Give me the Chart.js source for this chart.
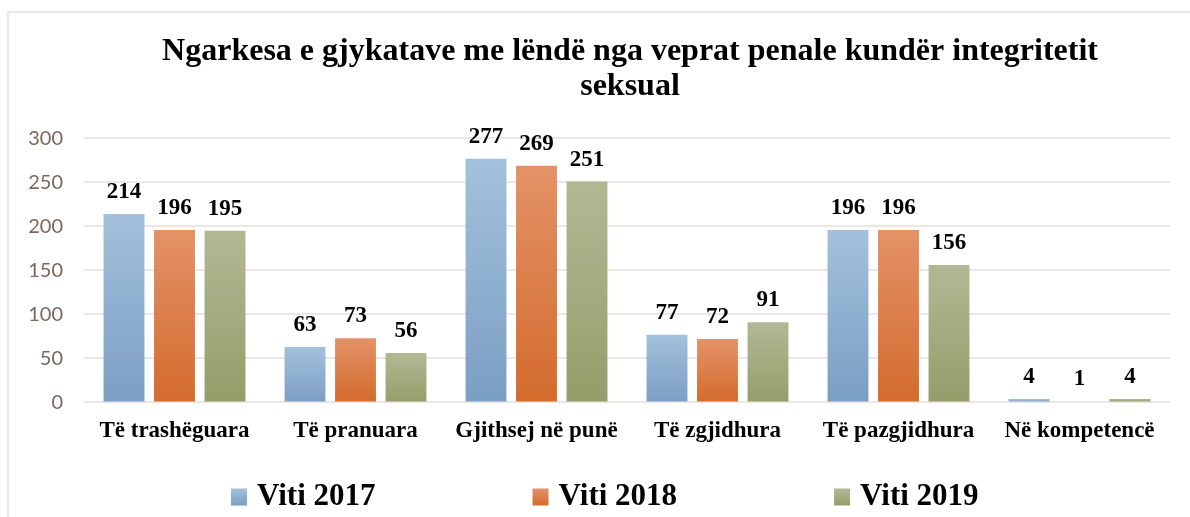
<!DOCTYPE html>
<html>
<head>
<meta charset="utf-8">
<script src="https://cdn.jsdelivr.net/npm/chart.js@4.4.1/dist/chart.umd.min.js"></script>
<style>
  html, body { margin: 0; padding: 0; background: #ffffff; overflow: hidden; width: 1190px; height: 517px; }
  #wrap { position: absolute; left: 0; top: 0; width: 1190px; height: 517px; overflow: hidden; }
  #frame { position: absolute; left: 7px; top: 11px; width: 1200px; height: 520px;
           border-top: 2px solid #ebe6e3; border-left: 2px solid #ebe6e3; box-sizing: border-box; }
  canvas { position: absolute; left: 0; top: 0; }
</style>
</head>
<body>
<div id="wrap">
  <div id="frame"></div>
  <canvas id="c" width="1260" height="517"></canvas>
</div>
<script>
// ---- data ----
const categories = ["Të trashëguara", "Të pranuara", "Gjithsej në punë", "Të zgjidhura", "Të pazgjidhura", "Në kompetencë"];
const seriesLabels = ["Viti 2017", "Viti 2018", "Viti 2019"];
const values2017 = [214, 63, 277, 77, 196, 4];
const values2018 = [196, 73, 269, 72, 196, 1];
const values2019 = [195, 56, 251, 91, 156, 4];
const yMin = 0, yMax = 300, yStep = 50;
const titleLines = ["Ngarkesa e gjykatave me lëndë nga veprat penale kundër integritetit", "seksual"];

// ---- styles ----
const palette = [
  { top: "#a3c1dc", bottom: "#7b9ec4" },
  { top: "#e39267", bottom: "#d46b2d" },
  { top: "#b2b894", bottom: "#959d6a" }
];
const serif = "'Liberation Serif', 'Times New Roman', serif";

function gradientFill(p) {
  return function (ctx) {
    const chart = ctx.chart;
    if (!chart.chartArea || ctx.type !== 'data') return p.bottom;
    const ys = chart.scales.y;
    const v = ctx.raw;
    const y0 = ys.getPixelForValue(v);
    const y1 = ys.getPixelForValue(0);
    if (y1 - y0 < 2) return p.bottom;
    const g = chart.ctx.createLinearGradient(0, y0, 0, y1);
    g.addColorStop(0, p.top);
    g.addColorStop(1, p.bottom);
    return g;
  };
}

const valueLabels = {
  id: 'valueLabels',
  afterDatasetsDraw(chart) {
    const ctx = chart.ctx;
    ctx.save();
    ctx.font = "bold 23px " + serif;
    ctx.fillStyle = "#000000";
    ctx.textAlign = "center";
    ctx.textBaseline = "alphabetic";
    chart.data.datasets.forEach((ds, di) => {
      const meta = chart.getDatasetMeta(di);
      meta.data.forEach((bar, i) => {
        ctx.fillText(String(ds.data[i]), bar.x, bar.y - 16);
      });
    });
    ctx.restore();
  }
};

const bottomLegend = {
  id: 'bottomLegend',
  afterDraw(chart) {
    const ctx = chart.ctx;
    ctx.save();
    ctx.font = "bold 31px " + serif;
    ctx.textBaseline = "middle";
    ctx.textAlign = "left";
    const boxW = 16, boxH = 17, gapText = 10, gapItem = 157;
    const yMid = 497;
    let x = 231;
    chart.data.datasets.forEach((ds, di) => {
      const p = palette[di];
      const g = ctx.createLinearGradient(0, yMid - boxH / 2, 0, yMid + boxH / 2);
      g.addColorStop(0, p.top); g.addColorStop(1, p.bottom);
      ctx.fillStyle = g;
      ctx.fillRect(x, yMid - boxH / 2, boxW, boxH);
      ctx.fillStyle = "#000000";
      ctx.fillText(ds.label, x + boxW + gapText, yMid);
      const w = ctx.measureText(ds.label).width;
      x += boxW + gapText + w + gapItem;
    });
    ctx.restore();
  }
};

const seriesValues = [values2017, values2018, values2019];

new Chart(document.getElementById('c'), {
  type: 'bar',
  data: {
    labels: categories,
    datasets: seriesValues.map((vals, i) => ({
      label: seriesLabels[i],
      data: vals,
      backgroundColor: gradientFill(palette[i]),
      borderWidth: 0,
      categoryPercentage: 0.837,
      barPercentage: 0.81,
      minBarLength: 1
    }))
  },
  options: {
    responsive: false,
    animation: false,
    events: [],
    layout: { padding: { left: 0, right: 0, top: 0, bottom: 57 } },
    plugins: {
      legend: { display: false },
      tooltip: { enabled: false },
      title: {
        display: true,
        text: titleLines,
        color: "#000000",
        font: { family: serif, size: 32, weight: 'bold', lineHeight: 1.1 },
        padding: { top: 34, bottom: 34 }
      }
    },
    scales: {
      x: {
        grid: { display: false, drawTicks: false },
        border: { display: false },
        ticks: {
          color: "#000000",
          font: { family: serif, size: 23, weight: 'bold', lineHeight: 1.2 },
          padding: 15,
          maxRotation: 0,
          autoSkip: false
        }
      },
      y: {
        min: yMin,
        max: yMax,
        grid: { color: "#ece7e4", lineWidth: 2, drawTicks: false },
        border: { display: false },
        ticks: {
          stepSize: yStep,
          color: "#7b675d",
          font: { family: "Lato, 'Open Sans', sans-serif", size: 20 },
          padding: 21
        },
        afterFit(scale) { scale.width = 84; }
      },
      yRight: {
        type: 'linear',
        position: 'right',
        display: true,
        grid: { display: false, drawTicks: false },
        border: { display: false },
        ticks: { display: false },
        afterFit(scale) { scale.width = 90; }
      }
    }
  },
  plugins: [valueLabels, bottomLegend]
});
</script>
</body>
</html>
